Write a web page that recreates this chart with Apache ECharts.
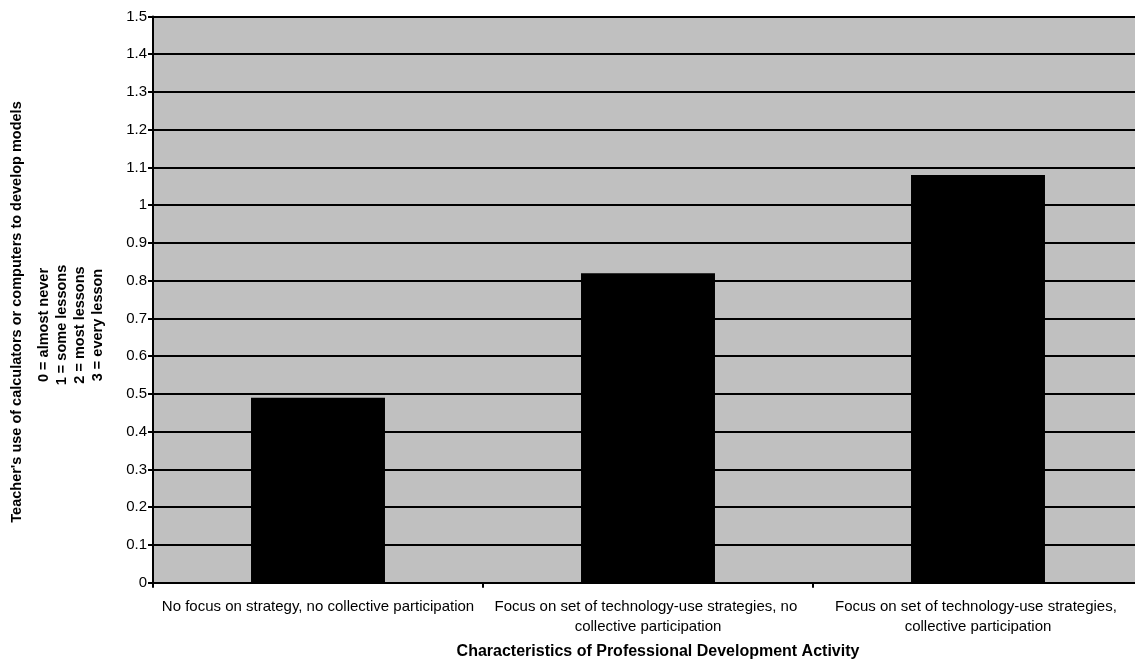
<!DOCTYPE html>
<html>
<head>
<meta charset="utf-8">
<script src="https://cdn.jsdelivr.net/npm/echarts@6/dist/echarts.min.js"></script>
<style>
  html, body { margin: 0; padding: 0; background: #ffffff; overflow: hidden; }
  #chart { width: 1135px; height: 662px; }
</style>
</head>
<body>
<div id="chart"></div>
<script>
// Professional development activity categories and mean teacher technology use
const categories = [
  'No focus on strategy, no collective participation',
  'Focus on set of technology-use strategies, no collective participation',
  'Focus on set of technology-use strategies, collective participation'
];
const usage = [0.49, 0.82, 1.08];

const xTitle = 'Characteristics of Professional Development Activity';
const yTitleMain = "Teacher's use of calculators or computers to develop models";
const yScaleLines = ['0 = almost never', '1 = some lessons', '2 = most lessons', '3 = every lesson'];

const FONT = '"Liberation Sans", Arial, sans-serif';

const chart = echarts.init(document.getElementById('chart'), null, { renderer: 'canvas' });

// Rotated, bold y-axis title block: a main line plus the scale key
const yTitleX = [17, 44, 62, 80, 98];
const yTitleY = [312, 325, 325, 325, 325];
const yTitleTexts = [yTitleMain].concat(yScaleLines);
const yTitleGraphics = yTitleTexts.map((t, i) => ({
  type: 'text',
  x: yTitleX[i],
  y: yTitleY[i],
  rotation: Math.PI / 2,
  style: {
    text: t,
    font: 'bold 14.5px ' + FONT,
    fill: '#000',
    align: 'center',
    verticalAlign: 'middle'
  }
}));

chart.setOption({
  animation: false,
  backgroundColor: '#ffffff',
  grid: {
    left: 153,
    top: 16.5,
    width: 990,          // plot area runs a little past the right edge of the page
    bottom: 79.3,
    outerBoundsMode: 'none',
    containLabel: false,
    show: true,
    backgroundColor: '#c0c0c0',
    borderWidth: 0
  },
  xAxis: {
    type: 'category',
    data: categories,
    boundaryGap: true,
    axisLine: { show: true, lineStyle: { color: '#000', width: 2 } },
    axisTick: { show: true, length: 5, lineStyle: { color: '#000', width: 2 } },
    axisLabel: {
      color: '#000',
      fontFamily: FONT,
      fontSize: 15,
      margin: 14,
      lineHeight: 20,
      width: 328,
      overflow: 'break',
      interval: 0
    },
    name: xTitle,
    nameLocation: 'middle',
    nameGap: 61,
    nameTextStyle: {
      color: '#000', fontFamily: FONT, fontSize: 16, fontWeight: 'bold',
      padding: [0, 0, 0, 20]
    }
  },
  yAxis: {
    type: 'value',
    min: 0,
    max: 1.5,
    interval: 0.1,
    axisLine: { show: true, lineStyle: { color: '#000', width: 2 } },
    axisTick: { show: true, length: 5, lineStyle: { color: '#000', width: 2 } },
    axisLabel: { color: '#000', fontFamily: FONT, fontSize: 15, margin: 6 },
    splitLine: { show: true, lineStyle: { color: '#000', width: 2 } }
  },
  series: [{
    type: 'bar',
    data: usage,
    barWidth: '40.6%',
    itemStyle: { color: '#000000' }
  }],
  graphic: yTitleGraphics
});
</script>
</body>
</html>
